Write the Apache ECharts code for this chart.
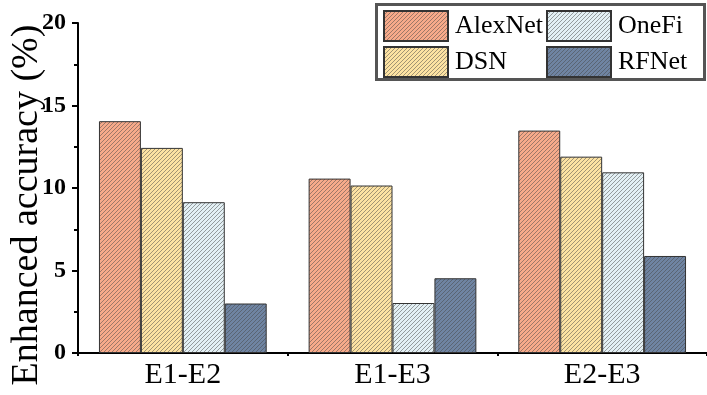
<!DOCTYPE html>
<html>
<head>
<meta charset="utf-8">
<script src="https://cdn.jsdelivr.net/npm/echarts@6/dist/echarts.min.js"></script>
<style>
  html, body { margin: 0; padding: 0; background: #fff; }
  #chart { width: 707px; height: 395px; }
</style>
</head>
<body>
<div id="chart"></div>
<script>
// Domain-shift pairs and the accuracy gain per method
const categories = ['E1-E2', 'E1-E3', 'E2-E3'];
const alexNet = [14.05, 10.57, 13.48];
const dsn     = [12.43, 10.15, 11.90];
const oneFi   = [9.14, 3.03, 10.95];
const rfNet   = [3.00, 4.53, 5.88];
const yTicks  = [0, 5, 10, 15, 20];

const FONT = '"Liberation Serif", "Times New Roman", serif';

// Hatched fill: base colour with thin "/" diagonal lines
function hatch(base) {
  const s = 4;
  const c = document.createElement('canvas');
  c.width = s; c.height = s;
  const g = c.getContext('2d');
  g.fillStyle = base;
  g.fillRect(0, 0, s, s);
  g.strokeStyle = 'rgba(70,70,70,0.5)';
  g.lineWidth = 1;
  g.beginPath();
  g.moveTo(-1, s + 1); g.lineTo(s + 1, -1);
  g.moveTo(-1, 1); g.lineTo(1, -1);
  g.moveTo(s - 1, s + 1); g.lineTo(s + 1, s - 1);
  g.stroke();
  return { image: c, repeat: 'repeat' };
}

function barSeries(name, data, base) {
  return {
    name: name,
    type: 'bar',
    data: data,
    barGap: '0%',
    barCategoryGap: '20%',
    itemStyle: { color: hatch(base), borderColor: '#333', borderWidth: 1 }
  };
}

const chart = echarts.init(document.getElementById('chart'), null, { renderer: 'canvas' });

const legendCommon = {
  orient: 'vertical',
  top: 10,
  itemWidth: 64,
  itemHeight: 30,
  itemGap: 4,
  icon: 'rect',
  selectedMode: false,
  padding: 0,
  textStyle: { fontFamily: FONT, fontSize: 26, color: '#000', padding: [0, 0, 0, 2] }
};

chart.setOption({
  animation: false,
  backgroundColor: '#fff',
  grid: { left: 78, right: 0, top: 23, bottom: 42, outerBoundsMode: 'none', containLabel: false },
  legend: [
    Object.assign({ left: 383, data: ['AlexNet', 'DSN'] }, legendCommon),
    Object.assign({ left: 546, data: ['OneFi', 'RFNet'] }, legendCommon)
  ],
  graphic: [{
    type: 'rect',
    z: 100,
    shape: { x: 376.5, y: 4.5, width: 328, height: 75 },
    style: { fill: 'none', stroke: '#555', lineWidth: 3 }
  }],
  xAxis: [{
    type: 'category',
    data: categories,
    axisLine: { lineStyle: { color: '#000', width: 2 } },
    axisTick: { alignWithLabel: true, length: 6, lineStyle: { color: '#000', width: 2 } },
    axisLabel: { fontFamily: FONT, fontSize: 30, color: '#000', margin: 7 }
  }, {
    // boundary ticks between category groups
    type: 'category',
    data: categories,
    position: 'bottom',
    axisLine: { show: false },
    axisTick: { show: true, length: 3, lineStyle: { color: '#000', width: 2 } },
    axisLabel: { show: false }
  }],
  yAxis: {
    type: 'value',
    min: yTicks[0],
    max: yTicks[yTicks.length - 1],
    interval: 5,
    name: 'Enhanced accuracy (%)',
    nameLocation: 'middle',
    nameGap: 32,
    nameMoveOverlap: false,
    nameTextStyle: { fontFamily: FONT, fontSize: 38, color: '#000', padding: [0, 34, 0, 0] },
    axisLine: { show: true, lineStyle: { color: '#000', width: 2 } },
    axisTick: { show: true, length: 6, lineStyle: { color: '#000', width: 2 } },
    minorTick: { show: true, splitNumber: 2, length: 4, lineStyle: { color: '#000', width: 2 } },
    splitLine: { show: false },
    axisLabel: { fontFamily: FONT, fontSize: 24, fontWeight: 'bold', color: '#000', margin: 12 }
  },
  series: [
    barSeries('AlexNet', alexNet, '#F7AA8A'),
    barSeries('DSN', dsn, '#FCE2A2'),
    barSeries('OneFi', oneFi, '#E3F0F5'),
    barSeries('RFNet', rfNet, '#6F84A2')
  ]
});
</script>
</body>
</html>
